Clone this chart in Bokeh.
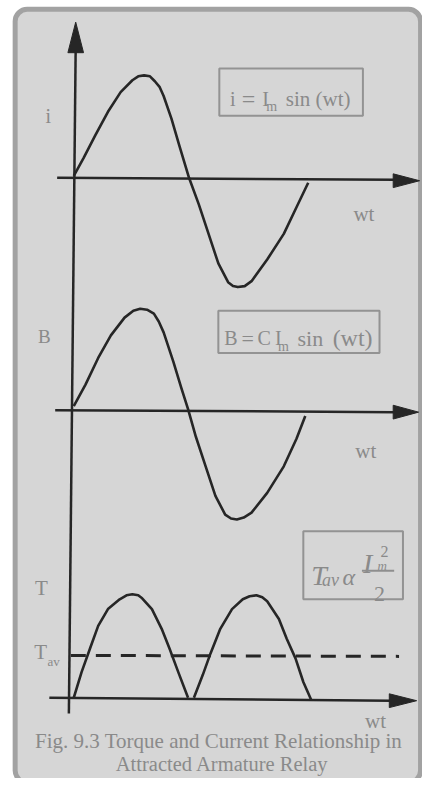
from bokeh.plotting import figure
from bokeh.models import Range1d
from bokeh.core.properties import value
from bokeh.embed import file_html
from bokeh.resources import INLINE

# ---- data (page pixel units) ----
# i = Im sin(wt)
i_x = [75, 85, 97, 110, 123, 135, 141, 147, 153, 158, 163, 167, 175, 183, 193, 203, 213, 223, 233, 238, 243, 250, 257, 273, 290, 303, 315]
i_y = [178, 160, 137, 113, 93, 81, 77, 76, 77, 82, 88, 97, 120, 147, 180, 207, 237, 267, 286, 290, 291, 290, 285, 263, 237, 210, 185]
# B = C Im sin(wt)
b_x = [75, 87, 100, 113, 127, 136, 143, 150, 157, 162, 167, 177, 185, 192, 200, 210, 220, 230, 236, 242, 249, 257, 273, 290, 303, 312]
b_y = [412, 390, 363, 340, 322, 315, 313, 314, 318, 326, 337, 367, 393, 415, 443, 473, 503, 522, 526, 527, 525, 520, 500, 473, 445, 422]
# torque humps
t1_x = [75, 83, 92, 100, 110, 122, 129, 135, 141, 145, 155, 165, 173, 182, 192]
t1_y = [708, 682, 657, 635, 618, 608, 604, 603, 604, 607, 618, 638, 658, 682, 708]
t2_x = [198, 207, 215, 225, 237, 248, 255, 262, 268, 273, 285, 293, 302, 310, 318]
t2_y = [708, 685, 663, 638, 618, 608, 605, 604, 606, 610, 628, 648, 668, 692, 710]
t_av = 665

# axes (start/end points)
v_axis = ([77, 70], [44, 724])
h_axes = [([58, 404], [180, 182]), ([56, 404], [416, 418]), ([50, 400], [708, 711])]
heads_x = [[77, 69, 85], [429, 402, 402], [428, 402, 402], [426, 398, 398]]
heads_y = [[22, 53, 53], [183, 176, 190], [418, 411, 425], [711, 704, 718]]

TXT = "#8a8a8a"
INK = "#262626"
SERIF = value("Liberation Serif")

p = figure(width=422, height=778, x_range=Range1d(0, 432), y_range=Range1d(790, 0),
           output_backend="svg", toolbar_location=None, min_border=0)
p.axis.visible = False
p.grid.visible = False
p.outline_line_color = None
p.background_fill_color = "white"
p.border_fill_color = "white"

# panel frame
p.quad(left=15, right=430, top=9, bottom=794, fill_color="#d6d6d6",
       line_color="#a2a2a2", line_width=5, border_radius=12)

# formula boxes
p.quad(left=[224, 223, 310], right=[371, 388, 412], top=[69, 315, 539], bottom=[117, 358, 608],
       fill_color=None, line_color="#939393", line_width=2)

# axes
p.line(v_axis[0], v_axis[1], line_color=INK, line_width=2.5)
for xs, ys in h_axes:
    p.line(xs, ys, line_color=INK, line_width=2.5)
p.patches(heads_x, heads_y, fill_color=INK, line_color=INK, line_width=1)

# curves
for xs, ys in [(i_x, i_y), (b_x, b_y), (t1_x, t1_y), (t2_x, t2_y)]:
    p.line(xs, ys, line_color=INK, line_width=2.6, line_join="round")
p.line([72, 408], [t_av, t_av + 1], line_color=INK, line_width=3, line_dash="15 10")


def txt(x, y, s, size, align="left", style="normal", color=TXT):
    p.text(x=[x], y=[y], text=[s], text_font=SERIF, text_font_size=f"{size}px",
           text_color=color, text_align=align, text_baseline="alphabetic",
           text_font_style=style)


# axis labels
txt(49, 117, "i", 20, "center")
txt(45, 341, "B", 19, "center")
txt(42, 597, "T", 21, "center")
txt(41, 662, "T", 21, "center")
txt(48, 671, "av", 13)
for x, y in [(372, 217), (374, 457), (384, 732)]:
    txt(x, y, "wt", 21, "center")

# box 1
txt(235, 100, "i", 20)
txt(254, 100, "=", 24, "center")
txt(268, 100, "I", 20)
txt(272, 108, "m", 14)
txt(292, 100, "sin (wt)", 21)
# box 2
txt(229, 343, "B", 20)
txt(253, 343, "=", 22, "center")
txt(263, 343, "C", 20)
txt(281, 343, "I", 20)
txt(284, 351, "m", 14)
txt(304, 343, "sin", 22)
txt(340, 343, "(wt)", 24)
# box 3
txt(318, 584, "T", 28, style="italic")
txt(329, 588, "av", 18, style="italic")
txt(350, 585, "\u03b1", 24, style="italic")
txt(371, 572, "I", 28, style="italic")
txt(389, 560, "2", 16)
txt(386, 574, "m", 13, style="italic")
p.line([370, 403], [579, 579], line_color="#8e8e8e", line_width=2)
txt(388, 603, "2", 22, "center")

# caption
txt(226, 752, "Fig. 9.3  Torque and Current Relationship in", 21, "center")
txt(227, 775, "Attracted Armature Relay", 20.5, "center")

open("out.html", "w").write(file_html(p, INLINE))
